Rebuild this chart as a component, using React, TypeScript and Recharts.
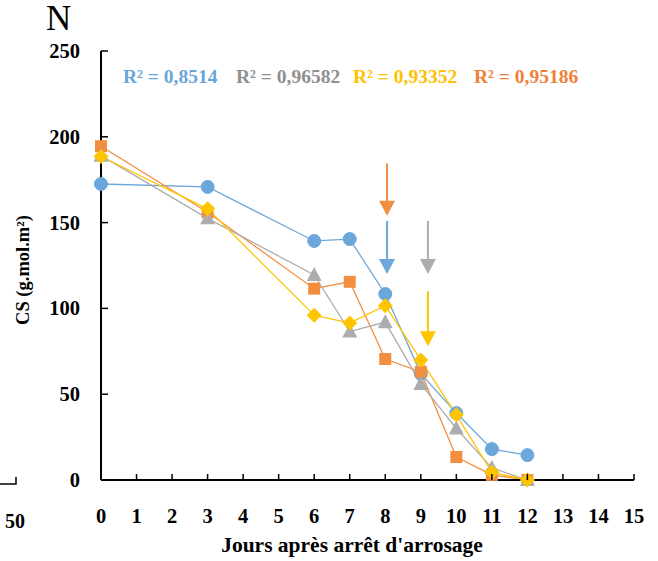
import React from 'react';
import { LineChart, Line, XAxis, YAxis, ReferenceLine, ReferenceDot } from 'recharts';

const days = [0, 3, 6, 7, 8, 9, 10, 11, 12];
const blueValues = [172.5, 170.8, 139.3, 140.4, 108.4, 62, 39, 18, 14.5];
const orangeValues = [194.5, 156, 111.5, 115.5, 70.5, 63, 13.4, 3, 0];
const grayValues = [189, 152.5, 119.5, 86.5, 92, 56, 30, 7, 0];
const yellowValues = [188.5, 158, 96, 91.5, 101.6, 70, 38, 4.5, 0];

const xTicks = [0, 1, 2, 3, 4, 5, 6, 7, 8, 9, 10, 11, 12, 13, 14, 15];
const yTicks = [0, 50, 100, 150, 200, 250];

const r2Labels = ['R² = 0,8514', 'R² = 0,96582', 'R² = 0,93352', 'R² = 0,95186'];

// arrows: x, top value, tip value
const arrowX = [8.05, 8.05, 9.2, 9.2];
const arrowTop = [184.5, 151, 151, 110];
const arrowTip = [154, 120, 120, 78];

const BLUE = '#6CA7DB';
const ORANGE = '#F28E40';
const GRAY = '#ADADAD';
const YELLOW = '#FFC400';
const arrowColors = [ORANGE, BLUE, GRAY, YELLOW];
const r2Colors = ['#6AA5DA', '#8F8F8F', '#FFC000', '#EF8038'];

const data = days.map((d, i) => ({
  day: d,
  blue: blueValues[i],
  orange: orangeValues[i],
  gray: grayValues[i],
  yellow: yellowValues[i],
}));

const FONT = '"Liberation Serif", "Times New Roman", serif';

const CircleDot = (p: any) => (
  <circle key={`c${p.index}`} cx={p.cx} cy={p.cy} r={6.5} fill={BLUE} stroke={BLUE} />
);
const SquareDot = (p: any) => (
  <rect key={`s${p.index}`} x={p.cx - 6} y={p.cy - 6} width={12} height={12} fill={ORANGE} />
);
const TriangleDot = (p: any) => (
  <polygon
    key={`t${p.index}`}
    points={`${p.cx},${p.cy - 8} ${p.cx + 7.5},${p.cy + 6} ${p.cx - 7.5},${p.cy + 6}`}
    fill={GRAY}
  />
);
const DiamondDot = (p: any) => (
  <polygon
    key={`d${p.index}`}
    points={`${p.cx},${p.cy - 7.5} ${p.cx + 7.5},${p.cy} ${p.cx},${p.cy + 7.5} ${p.cx - 7.5},${p.cy}`}
    fill={YELLOW}
  />
);

const XTick = (p: any) => (
  <g>
    <line x1={p.x} x2={p.x} y1={p.y} y2={p.y - 6} stroke="#000" strokeWidth={1.5} />
    <text x={p.x} y={p.y + 43} textAnchor="middle" fontFamily={FONT} fontWeight="bold" fontSize={20.5} fill="#000">
      {p.payload.value}
    </text>
  </g>
);

const YTick = (p: any) => (
  <g>
    <line x1={p.x} x2={p.x + 7} y1={p.y} y2={p.y} stroke="#000" strokeWidth={1.5} />
    <text x={p.x - 21} y={p.y + 7} textAnchor="end" fontFamily={FONT} fontWeight="bold" fontSize={20.5} fill="#000">
      {p.payload.value}
    </text>
  </g>
);

const makeHead = (color: string) => (p: any) => (
  <polygon
    points={`${p.cx},${p.cy} ${p.cx - 8},${p.cy - 15} ${p.cx + 8},${p.cy - 15}`}
    fill={color}
  />
);

export default function App() {
  const r2X = [123, 236, 353, 474];
  return (
    <div style={{ position: 'absolute', left: 0, top: 0, width: 658, height: 561, background: '#fff' }}>
      <LineChart
        width={658}
        height={561}
        data={data}
        margin={{ top: 51, right: 24, left: 41, bottom: 21 }}
      >
        <XAxis
          dataKey="day"
          type="number"
          domain={[0, 15]}
          ticks={xTicks}
          interval={0}
          height={60}
          tickSize={0}
          tickMargin={0}
          tickLine={false}
          axisLine={{ stroke: '#000', strokeWidth: 2 }}
          tick={<XTick />}
        />
        <YAxis
          type="number"
          domain={[0, 250]}
          ticks={yTicks}
          interval={0}
          width={60}
          tickSize={0}
          tickMargin={0}
          tickLine={false}
          axisLine={{ stroke: '#000', strokeWidth: 2 }}
          tick={<YTick />}
        />
        {arrowX.map((x, i) => (
          <ReferenceLine
            key={`al${i}`}
            segment={[
              { x, y: arrowTop[i] },
              { x, y: arrowTip[i] + 6 },
            ]}
            stroke={arrowColors[i]}
            strokeWidth={2}
          />
        ))}
        {arrowX.map((x, i) => (
          <ReferenceDot key={`ah${i}`} x={x} y={arrowTip[i]} shape={makeHead(arrowColors[i])} />
        ))}
        <Line dataKey="blue" stroke={BLUE} strokeWidth={1.3} dot={CircleDot} isAnimationActive={false} />
        <Line dataKey="orange" stroke={ORANGE} strokeWidth={1.3} dot={SquareDot} isAnimationActive={false} />
        <Line dataKey="gray" stroke={GRAY} strokeWidth={1.3} dot={TriangleDot} isAnimationActive={false} />
        <Line dataKey="yellow" stroke={YELLOW} strokeWidth={1.3} dot={DiamondDot} isAnimationActive={false} />
      </LineChart>
      <svg
        width={658}
        height={561}
        style={{ position: 'absolute', left: 0, top: 0, pointerEvents: 'none' }}
      >
        <text x={46} y={30} fontFamily={FONT} fontSize={35} fill="#000">N</text>
        {r2Labels.map((t, i) => (
          <text key={t} x={r2X[i]} y={83} fontFamily={FONT} fontWeight="bold" fontSize={19.5} fill={r2Colors[i]}>
            {t}
          </text>
        ))}
        <text
          x={29}
          y={270}
          transform="rotate(-90 29 270)"
          textAnchor="middle"
          fontFamily={FONT}
          fontWeight="bold"
          fontSize={18.5}
          fill="#000"
        >
          CS (g.mol.m²)
        </text>
        <text x={352} y={552} textAnchor="middle" fontFamily={FONT} fontWeight="bold" fontSize={21.5} fill="#000">
          Jours après arrêt d'arrosage
        </text>
        <text x={5} y={528} fontFamily={FONT} fontWeight="bold" fontSize={20} fill="#000">50</text>
        <polyline points="0,484 16,484 16,477" fill="none" stroke="#000" strokeWidth={1.5} />
      </svg>
    </div>
  );
}
